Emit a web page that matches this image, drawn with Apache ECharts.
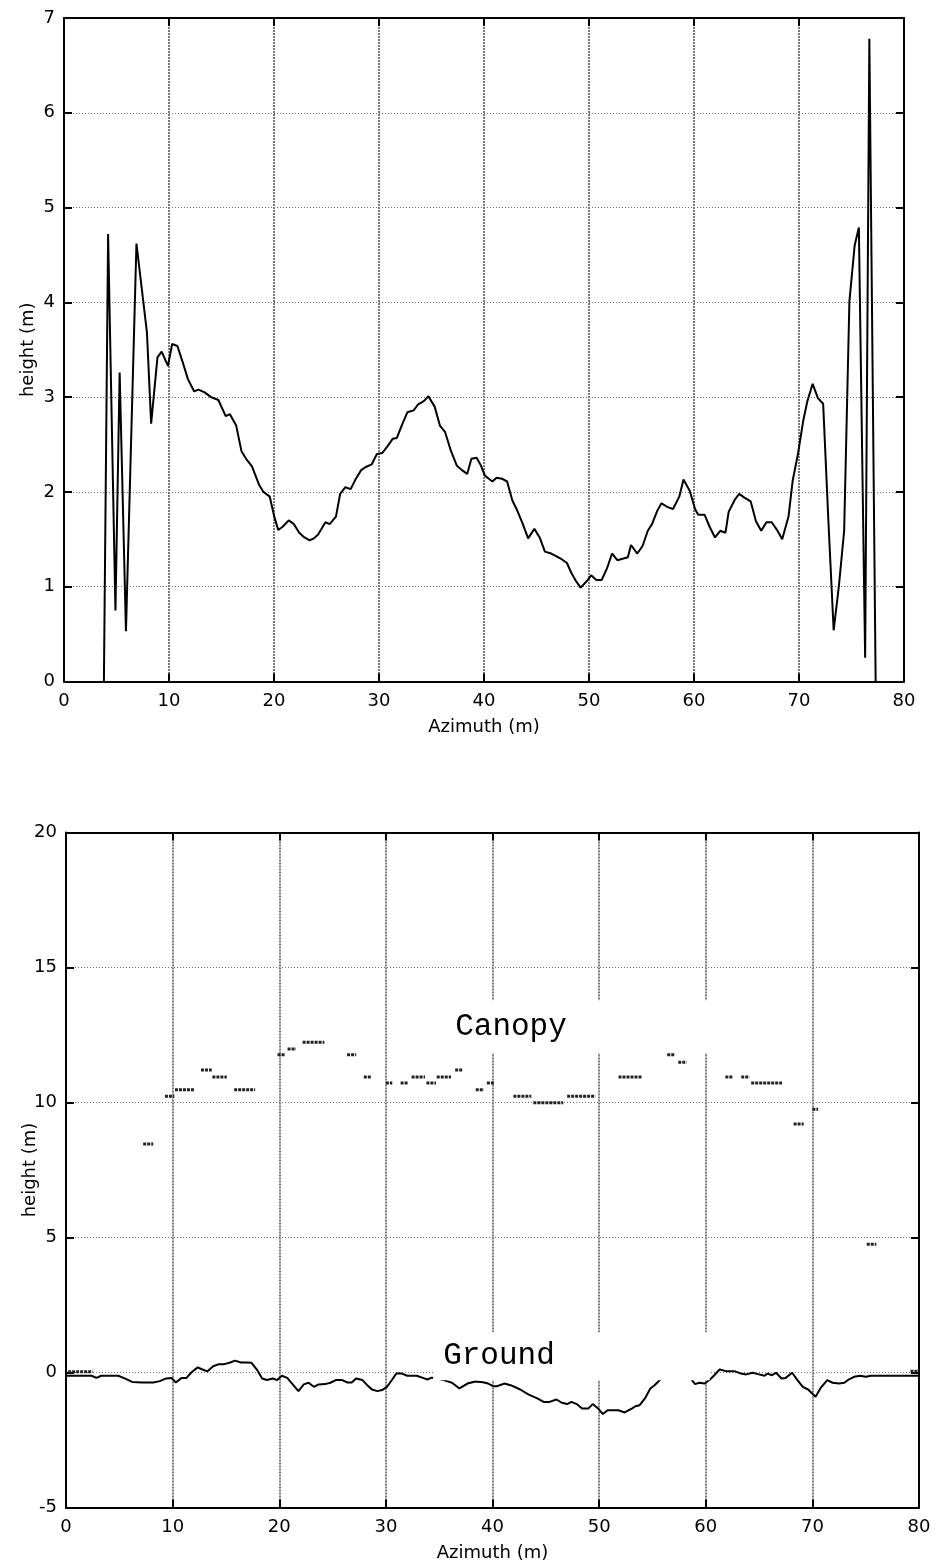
<!DOCTYPE html>
<html><head><meta charset="utf-8">
<script src="https://cdn.jsdelivr.net/npm/echarts@6/dist/echarts.min.js"></script>
<style>html,body{margin:0;padding:0;background:#fff}#c{width:936px;height:1566px}</style>
</head><body><div id="c"></div>
<script>
// ---- top chart: height profile ----
const topX = [3.8,4.2,4.9,5.3,5.9,6.9,7.9,8.3,8.9,9.3,9.9,10.3,10.8,11.3,11.8,12.4,12.8,13.4,14.0,14.7,15.4,15.8,16.4,16.9,17.4,17.9,18.6,19.0,19.6,20.0,20.4,20.8,21.4,21.9,22.4,22.9,23.4,23.8,24.2,24.9,25.3,25.9,26.3,26.8,27.3,27.8,28.3,28.7,29.3,29.8,30.3,30.8,31.3,31.7,32.2,32.7,33.3,33.7,34.3,34.7,35.3,35.8,36.3,36.8,37.4,37.9,38.4,38.8,39.3,39.7,40.1,40.8,41.2,41.7,42.2,42.7,43.1,43.7,44.2,44.8,45.3,45.8,46.4,46.9,47.4,47.9,48.3,48.7,49.2,49.8,50.2,50.7,51.2,51.7,52.2,52.7,53.7,54.0,54.6,55.1,55.6,56.0,56.5,56.9,57.5,58.0,58.6,59.0,59.6,60.1,60.4,61.0,61.5,62.0,62.5,63.0,63.3,63.9,64.3,64.8,65.4,65.9,66.4,66.9,67.4,67.9,68.4,69.0,69.4,69.9,70.4,70.8,71.3,71.8,72.3,72.8,73.3,73.8,74.3,74.8,75.3,75.7,76.3,76.7,77.3];
const topY = [0,4.72,0.75,3.26,0.53,4.62,3.68,2.72,3.42,3.48,3.33,3.56,3.54,3.37,3.19,3.06,3.08,3.05,3.0,2.97,2.80,2.82,2.70,2.43,2.34,2.27,2.07,2.0,1.95,1.75,1.60,1.63,1.70,1.66,1.57,1.52,1.49,1.51,1.55,1.68,1.66,1.74,1.98,2.05,2.03,2.14,2.23,2.26,2.29,2.40,2.41,2.48,2.56,2.57,2.71,2.84,2.86,2.92,2.96,3.01,2.90,2.70,2.63,2.45,2.28,2.23,2.19,2.35,2.36,2.28,2.17,2.11,2.15,2.14,2.11,1.91,1.82,1.66,1.51,1.61,1.52,1.37,1.35,1.32,1.29,1.25,1.15,1.07,0.99,1.06,1.12,1.07,1.07,1.19,1.35,1.28,1.31,1.44,1.35,1.43,1.59,1.66,1.80,1.88,1.84,1.82,1.95,2.13,2.01,1.82,1.76,1.76,1.63,1.52,1.59,1.57,1.79,1.92,1.98,1.94,1.90,1.69,1.59,1.68,1.68,1.60,1.50,1.74,2.12,2.40,2.75,2.96,3.14,2.99,2.93,1.69,0.54,1.01,1.59,4.01,4.60,4.79,0.25,6.78,0.0];

// ---- bottom chart: ground line ----
const groundX = [0.0,2.4,2.85,3.3,4.9,5.5,6.2,7.1,8.2,8.8,9.4,9.9,10.3,10.85,11.3,11.8,12.35,12.8,13.25,13.8,14.35,14.85,15.4,15.85,16.4,16.95,17.4,17.9,18.4,18.85,19.4,19.8,20.25,20.75,21.2,21.8,22.3,22.75,23.25,23.7,24.3,24.8,25.3,25.9,26.4,26.8,27.2,27.8,28.25,28.7,29.2,29.65,30.1,30.6,30.97,31.5,32.0,32.9,33.4,33.9,34.3,34.8,35.5,36.2,36.9,37.65,38.4,39.1,39.6,40.1,40.4,41.1,41.7,42.6,43.4,44.2,44.8,45.35,46.0,46.5,47.0,47.4,47.9,48.4,49.0,49.4,49.9,50.35,50.8,51.8,52.4,53.1,53.4,53.8,54.3,54.8,55.2,55.7,56.3,57.2,58.2,58.7,59.0,59.4,59.9,60.4,60.8,61.3,61.9,62.7,63.3,63.8,64.4,64.9,65.5,65.8,66.2,66.6,67.1,67.5,68.1,68.6,69.1,69.6,70.3,70.8,71.4,71.9,72.5,73.0,73.4,73.9,74.5,75.0,75.5,76.1,80.0];
const groundY = [-0.12,-0.12,-0.2,-0.12,-0.12,-0.22,-0.35,-0.37,-0.37,-0.32,-0.22,-0.2,-0.37,-0.2,-0.2,0.02,0.19,0.11,0.04,0.23,0.31,0.31,0.37,0.44,0.37,0.37,0.36,0.11,-0.22,-0.28,-0.22,-0.28,-0.12,-0.2,-0.41,-0.69,-0.44,-0.38,-0.53,-0.44,-0.43,-0.38,-0.28,-0.28,-0.37,-0.37,-0.22,-0.28,-0.47,-0.63,-0.69,-0.65,-0.53,-0.26,-0.04,-0.04,-0.12,-0.12,-0.19,-0.26,-0.19,-0.22,-0.29,-0.38,-0.59,-0.41,-0.33,-0.36,-0.41,-0.51,-0.51,-0.41,-0.47,-0.63,-0.82,-0.96,-1.09,-1.09,-1.0,-1.12,-1.17,-1.09,-1.17,-1.33,-1.33,-1.17,-1.33,-1.54,-1.4,-1.4,-1.48,-1.33,-1.25,-1.21,-0.96,-0.59,-0.47,-0.28,-0.1,-0.05,-0.1,-0.28,-0.43,-0.38,-0.41,-0.26,-0.1,0.11,0.05,0.05,-0.04,-0.07,-0.01,-0.06,-0.12,-0.04,-0.1,-0.01,-0.22,-0.2,-0.01,-0.28,-0.53,-0.63,-0.9,-0.56,-0.28,-0.38,-0.41,-0.38,-0.26,-0.16,-0.12,-0.16,-0.12,-0.12,-0.12];

// ---- bottom chart: canopy segments ----
const canopyStart  = [0.2,7.24,9.28,10.22,12.66,13.73,15.77,19.84,20.78,22.19,26.36,27.93,30.0,31.38,32.41,33.8,34.77,36.5,38.43,39.47,41.96,43.83,47.0,51.82,56.39,57.42,61.84,63.33,64.26,68.24,70.0,75.1,79.2];
const canopyEnd    = [2.5,8.18,10.16,12.04,13.67,15.08,17.74,20.5,21.57,24.23,27.21,28.62,30.6,32.1,33.67,34.7,36.11,37.2,39.2,40.16,43.64,46.63,49.64,54.06,57.14,58.2,62.55,64.1,67.15,69.18,70.54,76.0,80.0];
const canopyHeight = [0.03,8.46,10.23,10.47,11.2,10.94,10.47,11.77,11.98,12.23,11.77,10.94,10.72,10.72,10.94,10.72,10.94,11.2,10.47,10.72,10.23,9.99,10.23,10.94,11.77,11.49,10.94,10.94,10.72,9.2,9.75,4.75,0.05];

// tick settings
const xMin = 0, xMax = 80, xStep = 10;
const topYMin = 0, topYMax = 7, topYStep = 1;
const botYMin = -5, botYMax = 20, botYStep = 5;

const FONT = 'DejaVu Sans';
const BLACK = '#000';

function xAxisCfg(gi, pos, main) {
  return {
    type: 'value', gridIndex: gi, position: pos, min: xMin, max: xMax, interval: xStep,
    axisLine: { show: true, onZero: false, lineStyle: { color: BLACK, width: 2 } },
    axisTick: { show: true, inside: true, length: 8, lineStyle: { color: BLACK, width: 2 } },
    axisLabel: { show: main, margin: 11, color: BLACK, fontFamily: FONT, fontSize: 18, showMinLabel: true, showMaxLabel: true },
    splitLine: { show: main, lineStyle: { color: '#7a7a7a', width: 2, type: [2, 1] } },
    name: main ? 'Azimuth (m)' : '', nameLocation: 'middle', nameGap: 37, nameMoveOverlap: false,
    nameTextStyle: { color: BLACK, fontFamily: FONT, fontSize: 18 }
  };
}
function yAxisCfg(gi, pos, main, mn, mx, st) {
  return {
    type: 'value', gridIndex: gi, position: pos, min: mn, max: mx, interval: st,
    axisLine: { show: true, onZero: false, lineStyle: { color: BLACK, width: 2 } },
    axisTick: { show: true, inside: true, length: 8, lineStyle: { color: BLACK, width: 2 } },
    axisLabel: { show: main, margin: 9, color: BLACK, fontFamily: FONT, fontSize: 18, showMinLabel: true, showMaxLabel: true },
    splitLine: { show: main, lineStyle: { color: '#707070', width: 1, type: [1, 2] } },
    name: main ? 'height (m)' : '', nameLocation: 'middle', nameGap: 27, nameMoveOverlap: false,
    nameTextStyle: { color: BLACK, fontFamily: FONT, fontSize: 18 }
  };
}

const topData = topX.map((x, i) => [x, topY[i]]);
const groundData = groundX.map((x, i) => [x, groundY[i]]);
const canopyData = [];
canopyStart.forEach((s, i) => {
  canopyData.push([s, canopyHeight[i]]);
  canopyData.push([canopyEnd[i], canopyHeight[i]]);
  canopyData.push(null);
});

const chart = echarts.init(document.getElementById('c'), null, { renderer: 'canvas' });
chart.setOption({
  animation: false,
  backgroundColor: '#fff',
  grid: [
    { left: 64, top: 18, width: 840, height: 663.5 },
    { left: 66, top: 832.5, width: 853, height: 675 }
  ],
  xAxis: [
    xAxisCfg(0, 'bottom', true), xAxisCfg(0, 'top', false),
    xAxisCfg(1, 'bottom', true), xAxisCfg(1, 'top', false)
  ],
  yAxis: [
    yAxisCfg(0, 'left', true, topYMin, topYMax, topYStep), yAxisCfg(0, 'right', false, topYMin, topYMax, topYStep),
    yAxisCfg(1, 'left', true, botYMin, botYMax, botYStep), yAxisCfg(1, 'right', false, botYMin, botYMax, botYStep)
  ],
  series: [
    { type: 'line', xAxisIndex: 0, yAxisIndex: 0, data: topData, showSymbol: false, clip: true,
      lineStyle: { color: BLACK, width: 2 }, z: 5 },
    { type: 'line', xAxisIndex: 2, yAxisIndex: 2, data: groundData, showSymbol: false, clip: true,
      lineStyle: { color: BLACK, width: 2 }, z: 5 },
    { type: 'line', xAxisIndex: 2, yAxisIndex: 2, data: canopyData, showSymbol: false, connectNulls: false,
      lineStyle: { color: '#222', width: 3, type: [3, 1] }, z: 6 }
  ]
});

// label boxes placed in data coordinates of the bottom chart
function px(x, y) { return chart.convertToPixel({ gridIndex: 1 }, [x, y]); }
function box(x0, y0, x1, y1) {
  const a = px(x0, y0), b = px(x1, y1);
  return { type: 'rect', z: 100, shape: { x: Math.min(a[0], b[0]), y: Math.min(a[1], b[1]), width: Math.abs(b[0] - a[0]), height: Math.abs(b[1] - a[1]) }, style: { fill: '#fff' } };
}
function label(txt, x, y) {
  const p = px(x, y);
  return { type: 'text', z: 101, style: { text: txt, x: p[0], y: p[1], fill: '#000', font: '31px "Liberation Mono", "Courier New", monospace', align: 'left', verticalAlign: 'middle' } };
}
chart.setOption({
  graphic: [
    box(35.55, 13.79, 60.6, 11.83),
    label('Canopy', 36.5, 12.79),
    box(34.43, 1.49, 60.37, -0.285),
    label('Ground', 35.37, 0.62)
  ]
});
</script>
</body></html>
